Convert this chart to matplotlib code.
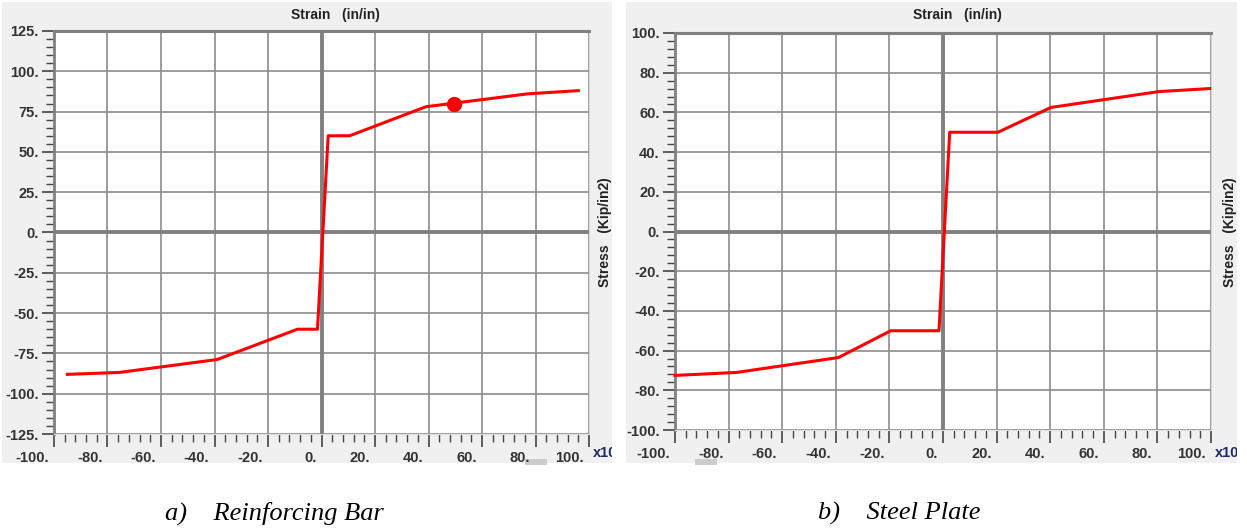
import matplotlib.pyplot as plt
import matplotlib.transforms as mtransforms
from matplotlib.patches import Rectangle
from matplotlib.ticker import MultipleLocator, FuncFormatter

# strain values are x10^-3 in/in, stress in ksi
bar_strain = [-95, -75.5, -39, -9, -1.5, 2.5, 10.5, 39, 77, 96]
bar_stress = [-88, -86.8, -78.8, -60, -60, 60, 60, 78, 86, 88]
bar_point = (49.7, 80)

plate_strain = [-100, -77, -39, -19.5, -1.5, 2.5, 20.5, 40.3, 80.6, 99.5]
plate_stress = [-72.5, -71, -63.5, -50, -50, 50, 50, 62.5, 70.5, 72]

captions = ["a)    Reinforcing Bar", "b)    Steel Plate"]

W, H = 1247, 531
fig = plt.figure(figsize=(W / 100, H / 100), dpi=100)

def fx(x):
    return x / W

def fy(y):
    return 1 - y / H

def panel(x0, x1, ax_box, strain, stress, ylim, ystep, yminor, thumb):
    # grey window background
    bg = Rectangle((fx(x0), fy(463)), fx(x1 - x0), (461) / H, transform=fig.transFigure,
                   facecolor="#f0f0f0", edgecolor="none", zorder=-5)
    fig.patches.append(bg)
    fig.patches.append(Rectangle((fx(thumb), fy(465)), fx(22), 6 / H, transform=fig.transFigure,
                                 facecolor="#cccccc", edgecolor="none", zorder=-4))
    l, t, r, b = ax_box
    ax = fig.add_axes([fx(l), fy(b), fx(r - l), (b - t) / H])
    ax.set_facecolor("white")
    ax.set_xlim(-100, 100)
    ax.set_ylim(*ylim)
    ax.xaxis.set_major_locator(MultipleLocator(20))
    ax.xaxis.set_minor_locator(MultipleLocator(4))
    ax.yaxis.set_major_locator(MultipleLocator(ystep))
    ax.yaxis.set_minor_locator(MultipleLocator(yminor))
    fmt = FuncFormatter(lambda v, p: f"{v:.0f}.")
    ax.xaxis.set_major_formatter(fmt)
    ax.yaxis.set_major_formatter(fmt)
    ax.grid(True, which="major", color="#8c8c8c", linewidth=1.2)
    ax.axhline(0, color="#808080", linewidth=2.8, zorder=2)
    ax.axvline(0, color="#808080", linewidth=2.8, zorder=2)
    ax.tick_params(which="major", direction="out", length=9, width=1.2, color="#444444",
                   labelsize=10.5, labelcolor="#333333")
    ax.tick_params(which="minor", direction="out", length=6, width=1.0, color="#444444")
    ax.tick_params(axis="x", pad=3)
    ax.tick_params(axis="y", pad=2)
    for lab in ax.get_xticklabels() + ax.get_yticklabels():
        lab.set_fontfamily("Liberation Sans")
        lab.set_fontweight("bold")
    off = mtransforms.ScaledTranslation(-0.05, 0, fig.dpi_scale_trans)
    for lab in ax.get_xticklabels():
        lab.set_horizontalalignment("right")
        lab.set_transform(lab.get_transform() + off)
    ax.get_xticklabels()[0].set_color("#1f2a66")
    ax.get_yticklabels()[0].set_color("#1f2a66")
    ax.spines["left"].set_color("#808080")
    ax.spines["left"].set_linewidth(2)
    ax.spines["top"].set_color("#808080")
    ax.spines["top"].set_linewidth(2.2)
    ax.spines["right"].set_color("#d8d8d8")
    ax.spines["bottom"].set_color("#e0e0e0")
    ax.plot(strain, stress, color="#ff0000", linewidth=2.2, zorder=3, clip_on=False)
    cx = (l + r) / 2
    fig.text(fx(cx + 14), fy(15), "Strain   (in/in)", ha="center", va="center",
             fontsize=10, fontweight="bold", family="Liberation Sans", color="#222222")
    fig.text(fx(x1 - 7), fy(232), "Stress   (Kip/in2)", ha="center", va="center", rotation=90,
             fontsize=10, fontweight="bold", family="Liberation Sans", color="#222222")
    xt = fig.text(fx(r + 4), fy(453), "x10", ha="left", va="center", fontsize=10.5,
                  fontweight="bold", family="Liberation Sans", color="#1f2a66")
    xt.set_clip_path(bg)
    return ax

ax1 = panel(2, 612, (54, 31, 589, 434), bar_strain, bar_stress, (-125, 125), 25, 5, 525)
ax1.plot(*bar_point, "o", color="#ff0000", markersize=10, zorder=4)

ax2 = panel(626, 1237, (675, 33, 1211, 430), plate_strain, plate_stress, (-100, 100), 20, 4, 695)

fig.text(fx(165), fy(513), captions[0], ha="left", va="center", fontsize=19,
         family="Liberation Serif", style="italic")
fig.text(fx(818), fy(513), captions[1], ha="left", va="center", fontsize=19,
         family="Liberation Serif", style="italic")

fig.savefig("out.png", dpi=100)
